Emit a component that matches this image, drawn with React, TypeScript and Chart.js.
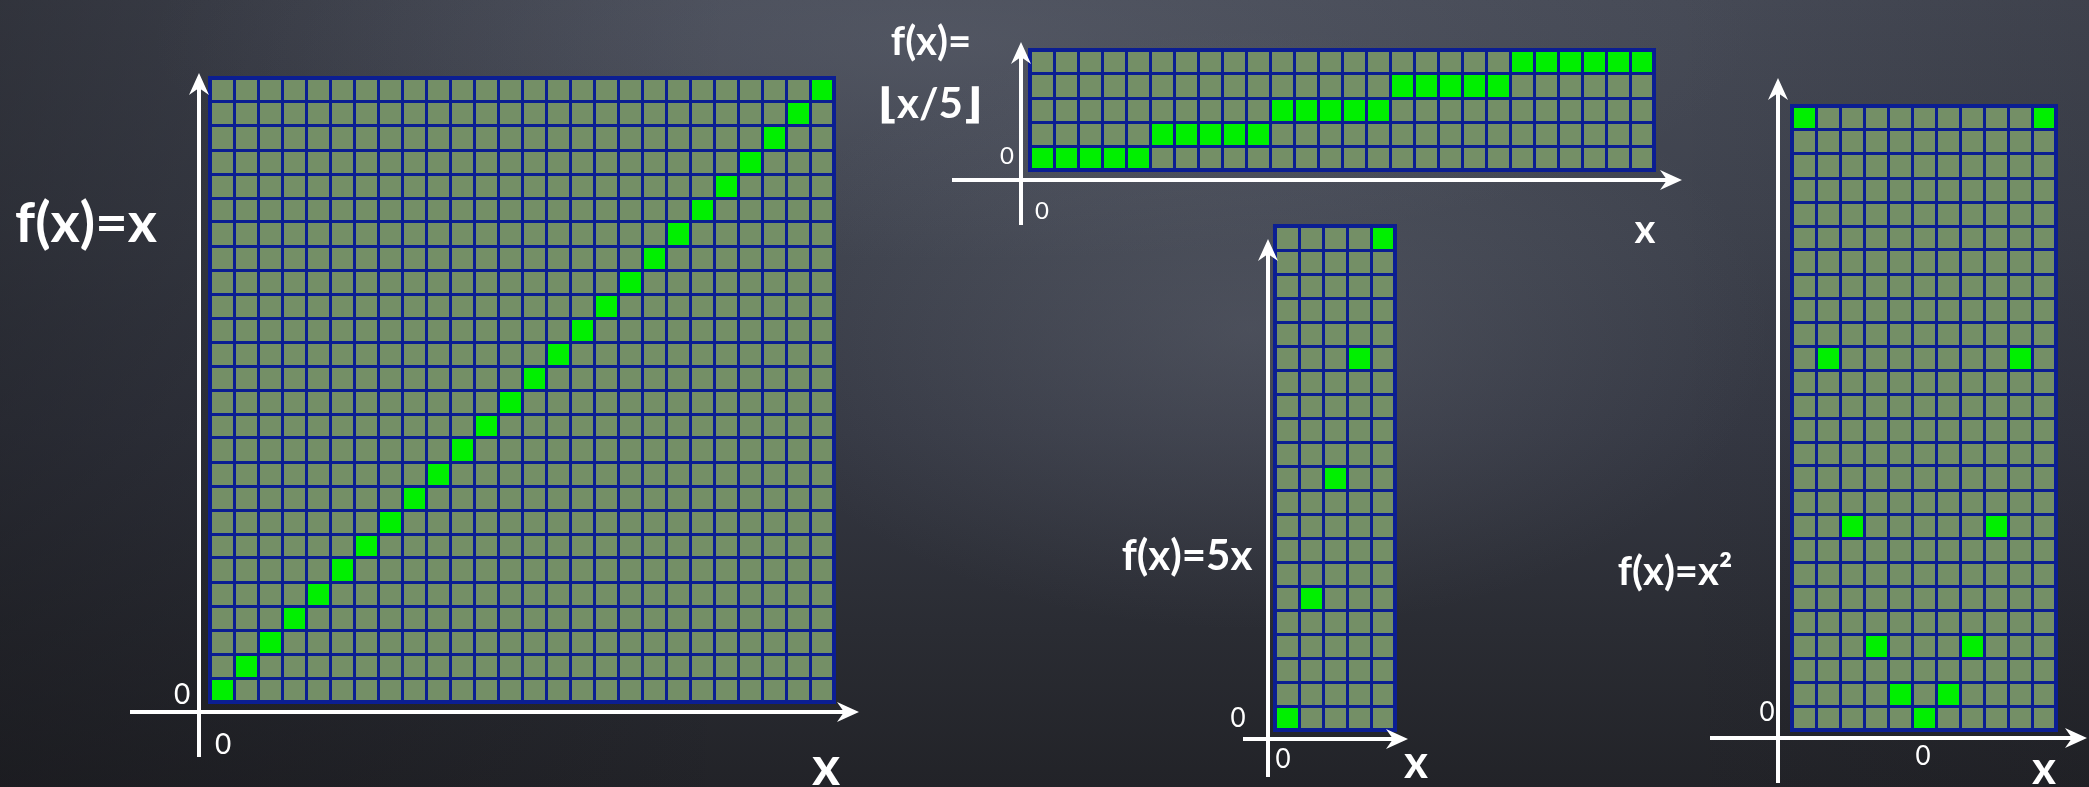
import React, { useEffect, useRef } from "react";
import { Chart, registerables } from "chart.js";

Chart.register(...registerables);

// Colours of the chalkboard grids
const CELL_FILL = "#748f66";
const CELL_LINE = "#0b1e92";
const HIT_FILL = "#00f000";
const CHALK = "#ffffff";
const FONT = "Lato, 'DejaVu Sans', sans-serif";

// f(x) = x
const identityXs = [0, 1, 2, 3, 4, 5, 6, 7, 8, 9, 10, 11, 12, 13, 14, 15, 16, 17, 18, 19, 20, 21, 22, 23, 24, 25];
const identityYs = [0, 1, 2, 3, 4, 5, 6, 7, 8, 9, 10, 11, 12, 13, 14, 15, 16, 17, 18, 19, 20, 21, 22, 23, 24, 25];
const identityRows = 26;

// f(x) = floor(x / 5)
const floorXs = [0, 1, 2, 3, 4, 5, 6, 7, 8, 9, 10, 11, 12, 13, 14, 15, 16, 17, 18, 19, 20, 21, 22, 23, 24, 25];
const floorYs = [0, 0, 0, 0, 0, 1, 1, 1, 1, 1, 2, 2, 2, 2, 2, 3, 3, 3, 3, 3, 4, 4, 4, 4, 4, 4];
const floorRows = 5;

// f(x) = 5x
const fiveXs = [0, 1, 2, 3, 4];
const fiveYs = [0, 5, 10, 15, 20];
const fiveRows = 21;

// f(x) = x^2
const squareXs = [-5, -4, -3, -2, -1, 0, 1, 2, 3, 4, 5];
const squareYs = [25, 15, 8, 3, 1, 0, 1, 3, 8, 15, 25];
const squareRows = 26;

type Box = { left: number; top: number; width: number; height: number };
type Area = { l: number; t: number; r: number; b: number };
type Axes = { vx: number; vTop: number; vBottom: number; hy: number; hLeft: number; hRight: number };

// Paints the plotting area with the cell colour before anything else.
const cellFillPlugin = {
  id: "cellFill",
  beforeDraw(chart: any) {
    const { ctx, chartArea: a } = chart;
    ctx.save();
    ctx.fillStyle = CELL_FILL;
    ctx.fillRect(a.left, a.top, a.right - a.left, a.bottom - a.top);
    ctx.restore();
  },
};

function arrowHead(ctx: CanvasRenderingContext2D, x: number, y: number, dir: "up" | "right") {
  const len = 22;
  const half = 10;
  const notch = 15;
  ctx.beginPath();
  if (dir === "up") {
    ctx.moveTo(x, y);
    ctx.lineTo(x + half, y + len);
    ctx.lineTo(x, y + notch);
    ctx.lineTo(x - half, y + len);
  } else {
    ctx.moveTo(x, y);
    ctx.lineTo(x - len, y - half);
    ctx.lineTo(x - notch, y);
    ctx.lineTo(x - len, y + half);
  }
  ctx.closePath();
  ctx.fill();
}

// Heavier outer frame of the grid plus white chalk axes with arrow heads.
const chalkAxesPlugin = {
  id: "chalkAxes",
  afterDraw(chart: any, _args: any, opts: any) {
    const { ctx, chartArea: a } = chart;
    ctx.save();
    ctx.strokeStyle = CELL_LINE;
    ctx.lineWidth = 4;
    ctx.strokeRect(a.left, a.top, a.right - a.left, a.bottom - a.top);

    const vx = a.left + opts.vx;
    const vTip = a.top + opts.vTop;
    const vEnd = a.bottom + opts.vBottom;
    const hy = a.bottom + opts.hy;
    const hStart = a.left + opts.hLeft;
    const hTip = a.right + opts.hRight;
    ctx.strokeStyle = CHALK;
    ctx.fillStyle = CHALK;
    ctx.lineWidth = 4;
    ctx.beginPath();
    ctx.moveTo(vx, vEnd);
    ctx.lineTo(vx, vTip + 13);
    ctx.stroke();
    arrowHead(ctx, vx, vTip, "up");
    ctx.beginPath();
    ctx.moveTo(hStart, hy);
    ctx.lineTo(hTip - 13, hy);
    ctx.stroke();
    arrowHead(ctx, hTip, hy, "right");
    ctx.restore();
  },
};

type GridProps = { xs: number[]; ys: number[]; rows: number; box: Box; area: Area; axes: Axes };

function GridChart({ xs, ys, rows, box, area, axes }: GridProps) {
  const ref = useRef<HTMLCanvasElement | null>(null);

  useEffect(() => {
    const canvas = ref.current;
    if (!canvas) return;
    const chart = new Chart(canvas, {
      type: "bar",
      data: {
        labels: xs.map(String),
        datasets: [
          {
            data: ys.map((v) => [v, v + 1]) as any,
            backgroundColor: HIT_FILL,
            borderWidth: 0,
            barPercentage: 1,
            categoryPercentage: 1,
          },
        ],
      },
      options: {
        responsive: false,
        animation: false,
        events: [],
        layout: {
          padding: {
            left: area.l - box.left,
            top: area.t - box.top,
            right: box.left + box.width - area.r,
            bottom: box.top + box.height - area.b,
          },
        },
        plugins: {
          legend: { display: false },
          tooltip: { enabled: false },
          chalkAxes: axes,
        } as any,
        scales: {
          x: {
            type: "category",
            offset: true,
            ticks: { display: false },
            border: { display: false },
            grid: { color: CELL_LINE, lineWidth: 3, offset: true, drawTicks: false, z: 1 } as any,
          },
          y: {
            type: "linear",
            min: 0,
            max: rows,
            ticks: { display: false, stepSize: 1, maxTicksLimit: 500 },
            border: { display: false },
            grid: { color: CELL_LINE, lineWidth: 3, drawTicks: false, z: 1 } as any,
          },
        },
      },
      plugins: [cellFillPlugin, chalkAxesPlugin],
    });
    return () => chart.destroy();
  }, [xs, ys, rows, box, area, axes]);

  return (
    <canvas
      ref={ref}
      width={box.width}
      height={box.height}
      style={{ position: "absolute", left: box.left, top: box.top, width: box.width, height: box.height }}
    />
  );
}

type LabelProps = { text: React.ReactNode; x: number; y: number; size: number; weight?: number };

function Label({ text, x, y, size, weight }: LabelProps) {
  return (
    <div
      style={{
        position: "absolute",
        left: x,
        top: y,
        transform: "translate(-50%, -50%)",
        fontFamily: FONT,
        fontSize: size,
        fontWeight: weight ?? 700,
        lineHeight: 1,
        whiteSpace: "nowrap",
        color: CHALK,
      }}
    >
      {text}
    </div>
  );
}

const identityBox: Box = { left: 100, top: 50, width: 790, height: 737 };
const identityArea: Area = { l: 210, t: 78, r: 834, b: 702 };
const identityAxes: Axes = { vx: -11, vTop: -5, vBottom: 55, hy: 10, hLeft: -80, hRight: 25 };

const floorBox: Box = { left: 930, top: 20, width: 780, height: 215 };
const floorArea: Area = { l: 1030, t: 50, r: 1654, b: 170 };
const floorAxes: Axes = { vx: -9, vTop: -8, vBottom: 55, hy: 10, hLeft: -78, hRight: 28 };

const fiveBox: Box = { left: 1230, top: 215, width: 200, height: 572 };
const fiveArea: Area = { l: 1275, t: 226, r: 1395, b: 730 };
const fiveAxes: Axes = { vx: -7, vTop: 13, vBottom: 47, hy: 9, hLeft: -32, hRight: 13 };

const squareBox: Box = { left: 1690, top: 60, width: 399, height: 727 };
const squareArea: Area = { l: 1792, t: 106, r: 2056, b: 730 };
const squareAxes: Axes = { vx: -14, vTop: -28, vBottom: 53, hy: 8, hLeft: -82, hRight: 31 };

export default function App() {
  return (
    <div
      style={{
        position: "fixed",
        left: 0,
        top: 0,
        width: 2089,
        height: 787,
        overflow: "hidden",
        background: [
          "radial-gradient(ellipse 520px 300px at 1250px 330px, rgba(120,125,138,0.28), rgba(120,125,138,0) 100%)",
          "radial-gradient(ellipse 800px 220px at 950px 40px, rgba(110,115,128,0.30), rgba(110,115,128,0) 100%)",
          "linear-gradient(90deg, rgba(18,18,22,0.40) 0%, rgba(18,18,22,0) 35%, rgba(18,18,22,0) 80%, rgba(18,18,22,0.15) 100%)",
          "linear-gradient(180deg, #464a56 0%, #3e424d 30%, #353843 55%, #2a2c33 80%, #222328 100%)",
        ].join(", "),
      }}
    >
      <GridChart xs={identityXs} ys={identityYs} rows={identityRows} box={identityBox} area={identityArea} axes={identityAxes} />
      <GridChart xs={floorXs} ys={floorYs} rows={floorRows} box={floorBox} area={floorArea} axes={floorAxes} />
      <GridChart xs={fiveXs} ys={fiveYs} rows={fiveRows} box={fiveBox} area={fiveArea} axes={fiveAxes} />
      <GridChart xs={squareXs} ys={squareYs} rows={squareRows} box={squareBox} area={squareArea} axes={squareAxes} />

      <Label text="f(x)=x" x={86} y={221} size={56} />
      <Label text="0" x={182} y={693} size={28} weight={400} />
      <Label text="0" x={223} y={743} size={28} weight={400} />
      <Label text="x" x={826} y={765} size={54} />

      <Label text="f(x)=" x={931} y={40} size={40} />
      <Label text="⌊x/5⌋" x={930} y={102} size={42} />
      <Label text="0" x={1007} y={155} size={24} weight={400} />
      <Label text="0" x={1042} y={210} size={24} weight={400} />
      <Label text="x" x={1645} y={228} size={40} />

      <Label text="f(x)=5x" x={1187} y={554} size={42} />
      <Label text="0" x={1238} y={717} size={26} weight={400} />
      <Label text="0" x={1283} y={758} size={26} weight={400} />
      <Label text="x" x={1416} y={761} size={46} />

      <Label text="f(x)=x²" x={1675} y={570} size={40} />
      <Label text="0" x={1767} y={711} size={26} weight={400} />
      <Label text="0" x={1923} y={755} size={26} weight={400} />
      <Label text="x" x={2044} y={767} size={46} />
    </div>
  );
}
